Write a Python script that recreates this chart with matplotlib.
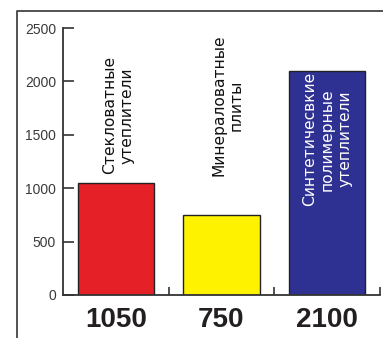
import matplotlib
matplotlib.use('Agg')
import matplotlib.pyplot as plt
from matplotlib.lines import Line2D

# data
categories = ['Стекловатные\nутеплители', 'Минераловатные\nплиты',
              'Синтетичесвкие\nполимерные\nутеплители']
values = [1050, 750, 2100]
value_labels = ['1050', '750', '2100']
colors = ['#E52027', '#FFF200', '#2E3192']
yticks = [0, 500, 1000, 1500, 2000, 2500]

fig = plt.figure(figsize=(3.83, 3.38), dpi=100)
ax = fig.add_axes([63 / 383, 1 - 295 / 338, 317 / 383, 267 / 338])

x = range(len(values))
ax.bar(x, values, width=0.72, color=colors, edgecolor='#222222', linewidth=1.0, zorder=2)

ax.set_xlim(-0.5, 2.5)
ax.set_ylim(0, 2500)
ax.set_yticks(yticks)
ax.set_yticklabels([str(t) for t in yticks], fontsize=10, color='#3a3a3a',
                   family='Liberation Sans')
ax.tick_params(axis='y', direction='in', length=8, width=1.2, color='#333333', pad=5)
ax.set_xticks([0.5, 1.5, 2.5])
ax.set_xticklabels([])
ax.tick_params(axis='x', direction='in', length=6, width=1.2, color='#333333')

for s in ['top', 'right']:
    ax.spines[s].set_visible(False)
for s in ['left', 'bottom']:
    ax.spines[s].set_color('#333333')
    ax.spines[s].set_linewidth(1.3)

# rotated category labels: first two above the bars, the last inside in white
label_x = [0.02, 1.06, 2.0]
label_y = [1130, 1110, 830]
label_c = ['#111111', '#111111', 'white']
for i, name in enumerate(categories):
    ax.text(label_x[i], label_y[i], name, rotation=90, ha='center', va='bottom',
            multialignment='center', fontsize=11.2, color=label_c[i],
            linespacing=1.2, zorder=3)

# big values under the axis
for i, lab in enumerate(value_labels):
    ax.annotate(lab, xy=(i, 0), xycoords='data', xytext=(0, -18),
                textcoords='offset points', ha='center', va='center',
                fontsize=20, fontweight='bold', family='Liberation Sans',
                color='#231F20', annotation_clip=False)

# outer frame (cropped on the right and bottom)
fx = 17 / 383
fy = 1 - 11 / 338
fig.add_artist(Line2D([fx, fx, 1.0], [0.0, fy, fy], transform=fig.transFigure,
                      color='#444444', linewidth=1.3))

fig.savefig('out.png', dpi=100)
